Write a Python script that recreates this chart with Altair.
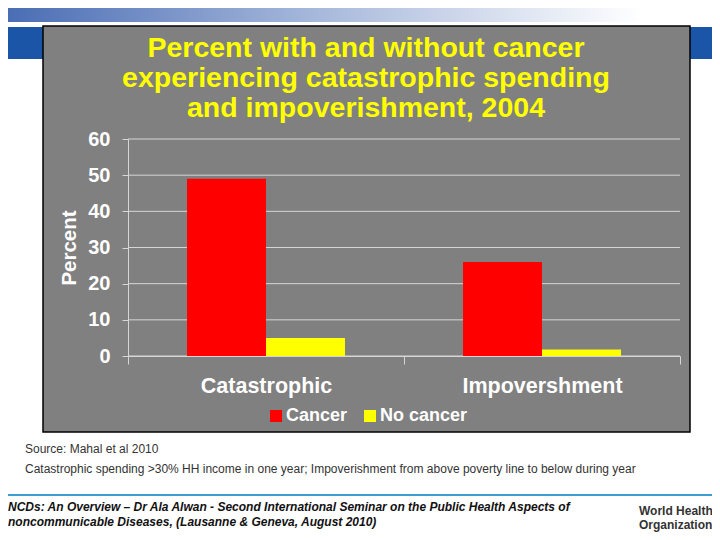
import altair as alt
import pandas as pd

categories = ["Catastrophic", "Impovershment"]
groups = ["Cancer", "No cancer"]
cancer = [49, 26]
no_cancer = [5, 1.8]
y_ticks = [0, 10, 20, 30, 40, 50, 60]

title_lines = ["Percent with and without cancer",
               "experiencing catastrophic spending",
               "and impoverishment, 2004"]
source_lines = ["Source: Mahal et al 2010",
                "Catastrophic spending >30% HH income in one year; Impoverishment from above poverty line to below during year"]
footer_lines = ["NCDs: An Overview \u2013 Dr Ala Alwan - Second International Seminar on the Public Health Aspects of",
                "noncommunicable Diseases, (Lausanne & Geneva, August 2010)"]
who_lines = ["World Health", "Organization"]

rows = []
for i, c in enumerate(categories):
    rows.append({"category": c, "group": groups[0], "value": cancer[i]})
    rows.append({"category": c, "group": groups[1], "value": no_cancer[i]})
df = pd.DataFrame(rows)
one = pd.DataFrame({"k": [0]})
grid_df = pd.DataFrame({"value": y_ticks})

FONT = "Liberation Sans"
W, H = 552, 217
LIGHT = "#d6d6d6"

def rect(x, x2, y, y2, **kw):
    return alt.Chart(one).mark_rect(**kw).encode(
        x=alt.value(x), x2=alt.value(x2), y=alt.value(y), y2=alt.value(y2))

def text(s, x, y, **kw):
    return alt.Chart(pd.DataFrame({"t": [s]})).mark_text(**kw).encode(
        x=alt.value(x), y=alt.value(y), text="t:N")

header = rect(-120, 584, -131, -117, color=alt.LinearGradient(
    gradient="linear", x1=0, x2=1, y1=0, y2=0,
    stops=[alt.GradientStop(color="#4a6db4", offset=0),
           alt.GradientStop(color="#9fb2d8", offset=0.4),
           alt.GradientStop(color="#ffffff", offset=0.9)]))
band = rect(-120, 584, -112, -80, color="#1a55a8")
panel = rect(-85, 562, -113, 293, color="#808080", stroke="#000000", strokeWidth=1.5)
footline = rect(-120, 584, 355, 357, color="#3d9fd0")

yscale = alt.Scale(domain=[0, 60], nice=False)
yaxis = alt.Axis(values=y_ticks, labelFont=FONT, grid=False, zindex=1,
                 labelFontSize=20, labelFontWeight="bold", labelColor="white",
                 labelPadding=12, tickSize=6, tickColor=LIGHT,
                 domainColor=LIGHT,
                 titleFont=FONT, titleFontSize=20.5, titleFontWeight="bold",
                 titleColor="white", titlePadding=8)

gridlines = alt.Chart(grid_df).mark_rule(color=LIGHT, strokeWidth=1).encode(
    y=alt.Y("value:Q", title="Percent", scale=yscale, axis=yaxis),
    x=alt.value(0), x2=alt.value(W))

bars = alt.Chart(df).mark_bar().encode(
    x=alt.X("category:N", sort=categories, title=None,
            scale=alt.Scale(paddingInner=0, paddingOuter=0),
            axis=alt.Axis(labelAngle=0, labelFont=FONT, labelFontSize=21.5,
                          labelFontWeight="bold", labelColor="white",
                          labelPadding=11, tickBand="extent", tickSize=8,
                          tickColor=LIGHT, domainColor=LIGHT, grid=False,
                          zindex=1)),
    xOffset=alt.XOffset("group:N", sort=groups,
                        scale=alt.Scale(paddingOuter=0.747, paddingInner=0)),
    y=alt.Y("value:Q", title="Percent", scale=yscale, axis=yaxis),
    color=alt.Color("group:N", sort=groups, title=None,
                    scale=alt.Scale(domain=groups, range=["#ff0000", "#ffff00"]),
                    legend=alt.Legend(orient="none", legendX=139, legendY=268,
                                      direction="horizontal", symbolType="square",
                                      symbolSize=144, symbolStrokeWidth=0,
                                      labelFont=FONT, labelFontSize=18,
                                      labelFontWeight="bold", labelColor="white",
                                      columnPadding=13, labelOffset=1, zindex=1)),
)

layers = [header, band, panel, footline, gridlines, bars]
for i, s in enumerate(title_lines):
    layers.append(text(s, 238, -91 + 30 * i, font=FONT, fontSize=28.5,
                       fontWeight="bold", color="#ffff00", align="center",
                       baseline="middle"))
for i, s in enumerate(source_lines):
    layers.append(text(s, -103, 310 + 20 * i, font=FONT, fontSize=12,
                       color="#333333", align="left", baseline="middle"))
for i, s in enumerate(footer_lines):
    layers.append(text(s, -120, 368 + 15 * i, font=FONT, fontSize=12,
                       fontWeight="bold", fontStyle="italic", color="#111111",
                       align="left", baseline="middle"))
for i, s in enumerate(who_lines):
    layers.append(text(s, 511, 372 + 14 * i, font=FONT, fontSize=12,
                       fontWeight="bold", color="#333333", align="left",
                       baseline="middle"))

chart = alt.layer(*layers).properties(
    width=W, height=H,
    autosize=alt.AutoSizeParams(type="none"),
    padding={"left": 120, "top": 131, "right": 32, "bottom": 176},
    background="white",
).configure_view(stroke=None)

chart.save("out.html", embed_options={"renderer": "svg", "actions": False})
